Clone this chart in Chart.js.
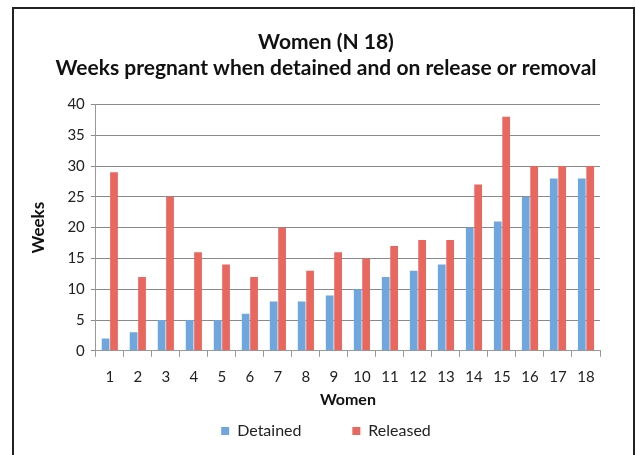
<!DOCTYPE html>
<html>
<head>
<meta charset="utf-8">
<script src="https://cdn.jsdelivr.net/npm/chart.js@4/dist/chart.umd.min.js"></script>
<style>
  html, body { margin: 0; padding: 0; background: #fff; }
  #wrap { width: 636px; height: 455px; }
</style>
</head>
<body>
<div id="wrap"><canvas id="chart" width="636" height="455"></canvas></div>
<script>
const women = ["1", "2", "3", "4", "5", "6", "7", "8", "9", "10", "11", "12", "13", "14", "15", "16", "17", "18"];
const detained = [2, 3, 5, 5, 5, 6, 8, 8, 9, 10, 12, 13, 14, 20, 21, 25, 28, 28];
const released = [29, 12, 25, 16, 14, 12, 20, 13, 16, 15, 17, 18, 18, 27, 38, 30, 30, 30];

// frame around the whole picture
const framePlugin = {
    id: "frame",
    beforeDraw(chart) {
        const ctx = chart.ctx;
        ctx.save();
        ctx.fillStyle = "#fff";
        ctx.fillRect(0, 0, chart.width, chart.height);
        ctx.strokeStyle = "#222";
        ctx.lineWidth = 2;
        ctx.strokeRect(13, 8, 621, 460);
        ctx.restore();
    }
};

const font = "Lato, 'Open Sans', sans-serif";

new Chart(document.getElementById("chart").getContext("2d"), {
    type: "bar",
    data: {
        labels: women,
        datasets: [
            {
                label: "Detained         ",
                data: detained,
                backgroundColor: "#6fa6dd",
                categoryPercentage: 0.6,
                barPercentage: 0.92
            },
            {
                label: "Released",
                data: released,
                backgroundColor: "#e8675f",
                categoryPercentage: 0.6,
                barPercentage: 0.92
            }
        ]
    },
    options: {
        responsive: false,
        animation: false,
        layout: { padding: { left: 52, right: 36, top: 24, bottom: 6 } },
        plugins: {
            title: {
                display: true,
                text: ["Women (N 18)", "Weeks pregnant when detained and on release or removal"],
                color: "#111",
                font: { family: font, size: 21, weight: "bold", lineHeight: 1.25 },
                padding: { top: 5, bottom: 23 }
            },
            legend: {
                position: "bottom",
                labels: {
                    color: "#222",
                    boxWidth: 8,
                    boxHeight: 8,
                    padding: 14,
                    font: { family: font, size: 16 }
                }
            },
            tooltip: { enabled: false }
        },
        scales: {
            x: {
                grid: { display: true, drawOnChartArea: false, offset: true, tickLength: 6, color: "#999" },
                border: { color: "#999" },
                ticks: { color: "#222", font: { family: font, size: 15 }, padding: 11 },
                title: { display: true, text: "Women", color: "#111", font: { family: font, size: 16, weight: "bold" }, padding: { top: -7, bottom: 0 } }
            },
            y: {
                min: 0,
                max: 40,
                ticks: { stepSize: 5, color: "#222", font: { family: font, size: 15 }, padding: 6 },
                grid: { color: "#8a8a8a", tickLength: 5 },
                border: { color: "#999" },
                title: { display: true, text: "Weeks", color: "#111", font: { family: font, size: 17, weight: "bold" }, padding: { top: -24, bottom: 13 } }
            }
        }
    },
    plugins: [framePlugin]
});
</script>
</body>
</html>
